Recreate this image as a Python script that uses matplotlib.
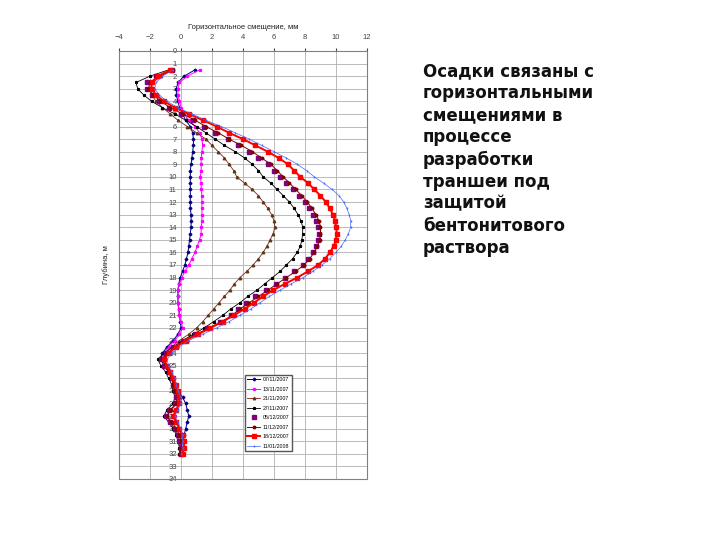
import matplotlib

matplotlib.use("Agg")
import matplotlib.pyplot as plt
from matplotlib.patches import Rectangle

# глубина, м (шаг 0.5 м)
depth = [1.5, 2.0, 2.5, 3.0, 3.5, 4.0, 4.5, 5.0, 5.5, 6.0, 6.5, 7.0, 7.5, 8.0,
         8.5, 9.0, 9.5, 10.0, 10.5, 11.0, 11.5, 12.0, 12.5, 13.0, 13.5, 14.0,
         14.5, 15.0, 15.5, 16.0, 16.5, 17.0, 17.5, 18.0, 18.5, 19.0, 19.5, 20.0,
         20.5, 21.0, 21.5, 22.0, 22.5, 23.0, 23.5, 24.0, 24.5, 25.0, 25.5, 26.0,
         26.5, 27.0, 27.5, 28.0, 28.5, 29.0, 29.5, 30.0, 30.5, 31.0, 31.5, 32.0]

# горизонтальные смещения, мм
d_0711 = [0.9, 0.2, -0.2, -0.3, -0.3, -0.2, -0.1, 0.1, 0.3, 0.6, 0.75, 0.8, 0.8, 0.75,
          0.7, 0.65, 0.6, 0.6, 0.6, 0.6, 0.6, 0.6, 0.6, 0.65, 0.65, 0.65,
          0.6, 0.55, 0.5, 0.45, 0.35, 0.25, 0.1, -0.05, -0.15, -0.2, -0.2, -0.2,
          -0.15, -0.1, -0.05, 0.0, -0.2, -0.5, -0.9, -1.2, -1.3, -1.1, -0.8, -0.6,
          -0.4, -0.2, 0.1, 0.3, 0.4, 0.5, 0.4, 0.3, 0.2, 0.1, 0.0, -0.05]
d_1311 = [1.2, 0.4, -0.1, -0.2, -0.2, -0.1, 0.0, 0.2, 0.5, 0.9, 1.2, 1.35, 1.4, 1.35,
          1.3, 1.3, 1.3, 1.25, 1.3, 1.3, 1.35, 1.35, 1.35, 1.35, 1.35, 1.3,
          1.3, 1.2, 1.05, 0.9, 0.7, 0.5, 0.25, 0.05, -0.1, -0.2, -0.2, -0.2,
          -0.15, -0.1, 0.0, 0.1, -0.1, -0.4, -0.8, -1.1, -1.2, -1.0, -0.7, -0.5,
          -0.4, -0.3, -0.2, -0.2, -0.3, -0.4, -0.3, -0.1, 0.0, 0.0, -0.05, -0.1]
d_2111 = [-0.6, -1.3, -1.8, -2.0, -1.9, -1.6, -1.2, -0.7, -0.2, 0.4, 1.0, 1.6, 2.0, 2.4,
          2.8, 3.1, 3.4, 3.6, 4.1, 4.6, 5.0, 5.3, 5.6, 5.85, 6.0, 6.05,
          5.95, 5.75, 5.55, 5.3, 5.0, 4.65, 4.25, 3.8, 3.45, 3.15, 2.8, 2.45,
          2.1, 1.75, 1.4, 1.0, 0.5, -0.1, -0.6, -1.0, -1.2, -1.0, -0.8, -0.6,
          -0.5, -0.4, -0.3, -0.3, -0.6, -0.9, -0.7, -0.4, -0.2, -0.1, -0.1, -0.1]
d_2711 = [-0.8, -2.0, -2.9, -2.8, -2.4, -1.9, -1.2, -0.4, 0.3, 1.0, 1.6, 2.2, 2.8, 3.5,
          4.1, 4.6, 5.0, 5.3, 5.8, 6.2, 6.6, 7.0, 7.3, 7.55, 7.75, 7.85,
          7.85, 7.8, 7.7, 7.5, 7.2, 6.8, 6.4, 5.9, 5.4, 4.9, 4.3, 3.8,
          3.2, 2.7, 2.1, 1.5, 0.8, 0.1, -0.5, -1.1, -1.5, -1.3, -1.0, -0.8,
          -0.6, -0.5, -0.4, -0.5, -0.9, -1.1, -0.8, -0.5, -0.3, -0.2, -0.1, -0.1]
d_0512 = [-0.6, -1.6, -2.2, -2.2, -1.9, -1.4, -0.8, 0.0, 0.8, 1.5, 2.2, 3.0, 3.7, 4.4,
          5.0, 5.6, 6.0, 6.4, 6.8, 7.2, 7.6, 8.0, 8.25, 8.5, 8.7, 8.85,
          8.9, 8.85, 8.7, 8.5, 8.2, 7.85, 7.3, 6.7, 6.1, 5.5, 4.8, 4.2,
          3.7, 3.2, 2.5, 1.7, 0.9, 0.1, -0.5, -1.0, -1.3, -1.1, -0.8, -0.6,
          -0.5, -0.4, -0.3, -0.4, -0.8, -1.0, -0.7, -0.4, -0.2, -0.1, 0.0, 0.0]
d_1112 = [-0.5, -1.4, -2.0, -2.1, -1.8, -1.3, -0.7, 0.1, 0.9, 1.6, 2.4, 3.1, 3.9, 4.6,
          5.2, 5.8, 6.2, 6.6, 7.0, 7.4, 7.8, 8.15, 8.45, 8.7, 8.9, 9.0,
          9.0, 8.95, 8.8, 8.6, 8.3, 7.95, 7.4, 6.8, 6.2, 5.6, 5.0, 4.4,
          3.8, 3.3, 2.6, 1.8, 1.0, 0.2, -0.4, -0.9, -1.2, -1.0, -0.8, -0.6,
          -0.5, -0.4, -0.2, -0.3, -0.7, -0.9, -0.6, -0.3, -0.1, 0.0, 0.0, -0.05]
d_1812 = [-0.7, -1.5, -1.9, -1.9, -1.6, -1.1, -0.4, 0.5, 1.4, 2.3, 3.1, 4.0, 4.8, 5.6,
          6.3, 6.9, 7.3, 7.7, 8.2, 8.6, 9.0, 9.35, 9.6, 9.8, 9.95, 10.0,
          10.05, 10.0, 9.85, 9.6, 9.3, 8.85, 8.2, 7.5, 6.7, 5.95, 5.3, 4.7,
          4.1, 3.4, 2.7, 1.9, 1.1, 0.3, -0.3, -0.8, -1.1, -0.9, -0.7, -0.5,
          -0.3, -0.2, -0.1, -0.1, -0.3, -0.5, -0.3, -0.1, 0.1, 0.2, 0.2, 0.1]
d_1101 = [-0.5, -1.2, -1.6, -1.7, -1.4, -0.9, -0.2, 0.7, 1.6, 2.6, 3.5, 4.4, 5.2, 6.0,
          6.8, 7.5, 8.1, 8.6, 9.2, 9.75, 10.2, 10.5, 10.7, 10.85, 10.95, 10.95,
          10.8, 10.6, 10.35, 10.0, 9.6, 9.1, 8.5, 7.9, 7.1, 6.4, 5.7, 5.1,
          4.5, 3.8, 3.1, 2.3, 1.4, 0.5, -0.1, -0.6, -0.9, -0.8, -0.6, -0.4,
          -0.3, -0.2, 0.0, 0.0, -0.2, -0.4, -0.2, 0.0, 0.1, 0.1, 0.1, 0.0]

series = [
    ("07/11/2007", d_0711, dict(color="#000080", lw=0.7, marker="D", ms=1.4)),
    ("13/11/2007", d_1311, dict(color="#FF00FF", lw=0.7, marker="s", ms=1.4)),
    ("21/11/2007", d_2111, dict(color="#8B1A1A", lw=0.6, marker="^", ms=1.8,
                                mfc="#5A3A10", mec="#5A3A10")),
    ("27/11/2007", d_2711, dict(color="#000000", lw=0.6, marker="*", ms=2.0)),
    ("05/12/2007", d_0512, dict(color="#800080", lw=0, marker="s", ms=2.4)),
    ("11/12/2007", d_1112, dict(color="#800000", lw=0.7, marker="o", ms=1.8)),
    ("18/12/2007", d_1812, dict(color="#FF0000", lw=1.4, marker="s", ms=2.2)),
    ("11/01/2008", d_1101, dict(color="#4466FF", lw=0.5, marker="|", ms=2.0)),
]

x_ticks = [-4, -2, 0, 2, 4, 6, 8, 10, 12]
y_ticks = list(range(0, 35))

plt.rcParams["font.family"] = ["Liberation Sans", "DejaVu Sans"]

fig = plt.figure(figsize=(7.2, 5.4), dpi=100)
ax = fig.add_axes([0.1653, 0.113, 0.3444, 0.7926])

for label, vals, style in series:
    ax.plot(vals, depth, label=label, linestyle="-" if style["lw"] > 0 else "None",
            **style)

ax.set_xlim(-4, 12)
ax.set_ylim(34, 0)
ax.set_xticks(x_ticks)
ax.set_yticks(y_ticks)
ax.grid(color="#B0B0B0", linewidth=0.6)
ax.set_axisbelow(True)

# ось глубин проходит через 0 мм
for s in ax.spines.values():
    s.set_visible(False)
ax.spines["left"].set_position(("data", 0))
ax.add_patch(Rectangle((0, 0), 1, 1, transform=ax.transAxes, fill=False,
                       ec="#808080", lw=0.8, clip_on=False))

ax.xaxis.tick_top()
ax.xaxis.set_label_position("top")
ax.tick_params(axis="x", labelsize=5.5, length=2, pad=5, colors="#444444")
ax.tick_params(axis="y", labelsize=5.5, length=0, pad=3, colors="#444444")
ax.set_xlabel("Горизонтальное смещение, мм", fontsize=5.5, labelpad=4, color="#222222")
ax.set_ylabel("Глубина, м", fontsize=5.5, color="#222222")
ax.yaxis.set_label_coords(-0.035, 0.5)

ax.legend(loc="upper left", bbox_to_anchor=(0.496, 0.25), fontsize=3.8,
          frameon=True, fancybox=False, edgecolor="#555555", framealpha=1,
          handlelength=2.4, labelspacing=0.85, borderpad=0.5, handletextpad=0.5)

fig.text(0.5875, 0.885, "Осадки связаны с\nгоризонтальными\nсмещениями в\nпроцессе\n"
         "разработки\nтраншеи под\nзащитой\nбентонитового\nраствора",
         fontsize=12, fontweight="bold", va="top", ha="left", linespacing=1.29,
         color="#111111", family="DejaVu Sans")

fig.savefig("out.png", dpi=100)
